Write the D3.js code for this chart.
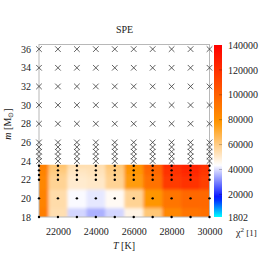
<!DOCTYPE html>
<html lang="en">
<head>
<meta charset="UTF-8">
<script src="https://d3js.org/d3.v7.min.js"></script>
<style>
  body { margin: 0; background: #fff; }
  text { font-family: "Liberation Serif", "Times New Roman", serif; font-size: 10px; fill: #222; }
</style>
</head>
<body>
<div id="app"></div>
<script>
    const svg_width = 262;
    const svg_height = 262;

    // grid of models
    var temps = [21000, 22000, 23000, 24000, 25000, 26000, 27000, 28000, 29000, 30000];
    var masses = [18, 20, 22, 22.5, 23, 23.5];
    // chi2 values, one row per mass
    var chi_18 = [88000, 54000, 39000, 35000, 39000, 47000, 62000, 84000, 92000, 94000];
    var chi_20 = [86000, 55000, 43000, 41000, 45000, 58000, 78000, 92000, 97000, 97000];
    var chi_22 = [84000, 58000, 50000, 51000, 58000, 76000, 93000, 116000, 120000, 114000];
    var chi_225 = [85000, 59000, 51000, 52000, 59000, 77000, 95000, 118000, 122000, 116000];
    var chi_23 = [86000, 61000, 52000, 53000, 60000, 78000, 97000, 120000, 124000, 118000];
    var chi_235 = [87000, 63000, 54000, 54000, 62000, 80000, 99000, 122000, 126000, 120000];
    var chi_rows = [chi_18, chi_20, chi_22, chi_225, chi_23, chi_235];
    // models without a fit (crosses)
    var cross_masses = [24, 24.5, 25, 25.5, 26, 28, 30, 32, 34, 36];

    var x_ticks = [22000, 24000, 26000, 28000, 30000];
    var y_ticks = [18, 20, 22, 24, 26, 28, 30, 32, 34, 36];
    var cb_ticks = [1802, 20000, 40000, 60000, 80000, 100000, 120000, 140000];
    var cb_range = [1802, 140000];

    var svg = d3.select('#app')
        .append('svg')
        .attr('width', svg_width)
        .attr('height', svg_height)

    var x_scale = d3.scaleLinear().domain([21000, 30000]).range([39, 209.5])
    var y_scale = d3.scaleLinear().domain([18, 36.55]).range([217, 44])
    var cb_scale = d3.scaleLinear().domain(cb_range).range([217, 45])

    var color = d3.scaleLinear()
        .domain([1802, 17500, 43500, 78000, 140000])
        .range(['#00ffff', '#0010ff', '#ffffff', '#ff9600', '#ff0000'])
        .clamp(true)

    var defs = svg.append('defs')
    defs.append('filter').attr('id', 'soft')
        .attr('x', '-10%').attr('y', '-10%').attr('width', '120%').attr('height', '120%')
        .append('feGaussianBlur').attr('stdDeviation', 1.6)
    defs.append('clipPath').attr('id', 'heatclip')
        .append('rect')
        .attr('x', x_scale(21000))
        .attr('y', y_scale(23.6))
        .attr('width', x_scale(30000) - x_scale(21000))
        .attr('height', y_scale(18) - y_scale(23.6))

    // cell edges halfway between grid values, outer ones pushed out
    function edges(arr, pad) {
        var e = [arr[0] - pad]
        for (let i = 1; i < arr.length; i++) e.push((arr[i - 1] + arr[i]) / 2)
        e.push(arr[arr.length - 1] + pad)
        return e
    }
    var tx = edges(temps, 1500)
    var my = edges(masses, 1.2)

    var cells = []
    masses.forEach(function (m, j) {
        temps.forEach(function (t, i) {
            cells.push({ i: i, j: j, v: chi_rows[j][i] })
        })
    })

    svg.append('g').attr('clip-path', 'url(#heatclip)')
        .append('g').attr('filter', 'url(#soft)')
        .selectAll('rect')
        .data(cells)
        .enter()
        .append('rect')
        .attr('x', function (d) { return x_scale(tx[d.i]) })
        .attr('width', function (d) { return x_scale(tx[d.i + 1]) - x_scale(tx[d.i]) + 0.5 })
        .attr('y', function (d) { return y_scale(my[d.j + 1]) })
        .attr('height', function (d) { return y_scale(my[d.j]) - y_scale(my[d.j + 1]) + 0.5 })
        .attr('fill', function (d) { return color(d.v) })

    // frame
    svg.append('rect')
        .attr('x', 39).attr('y', 44.5)
        .attr('width', x_scale(30000) - 39).attr('height', 217 - 44.5)
        .attr('fill', 'none').attr('stroke', '#b8b8b8').attr('stroke-width', 1)

    // crosses
    var cross_pts = []
    cross_masses.forEach(function (m) {
        temps.forEach(function (t) { cross_pts.push([t, m]) })
    })
    svg.append('g').selectAll('path')
        .data(cross_pts)
        .enter()
        .append('path')
        .attr('d', function (d) {
            var cx = x_scale(d[0]), cy = y_scale(d[1]), s = 2.8
            return 'M' + (cx - s) + ',' + (cy - s) + 'L' + (cx + s) + ',' + (cy + s) +
                'M' + (cx - s) + ',' + (cy + s) + 'L' + (cx + s) + ',' + (cy - s)
        })
        .attr('stroke', '#3a3a3a')
        .attr('stroke-width', 0.8)
        .attr('fill', 'none')

    // fitted models (dots)
    var dot_pts = []
    masses.forEach(function (m) {
        temps.forEach(function (t) { dot_pts.push([t, m]) })
    })
    svg.append('g').selectAll('circle')
        .data(dot_pts)
        .enter()
        .append('circle')
        .attr('cx', function (d) { return x_scale(d[0]) })
        .attr('cy', function (d) { return y_scale(d[1]) })
        .attr('r', 1.2)
        .attr('fill', '#000')

    // axes
    var x_axis = svg.append('g')
        .attr('transform', 'translate(0,217)')
        .call(d3.axisBottom(x_scale).tickValues(x_ticks).tickFormat(d3.format('d')).tickSize(0).tickPadding(11))
    var y_axis = svg.append('g')
        .attr('transform', 'translate(39,0)')
        .call(d3.axisLeft(y_scale).tickValues(y_ticks).tickSize(0).tickPadding(8))
    svg.selectAll('.domain').remove()
    svg.selectAll('.tick text').attr('fill', '#222').style('font-size', '10px')
        .style('font-family', '"Liberation Serif", serif')

    // colour bar
    var grad = defs.append('linearGradient').attr('id', 'cbgrad')
        .attr('x1', 0).attr('y1', 1).attr('x2', 0).attr('y2', 0)
    d3.range(0, 1.0001, 0.02).forEach(function (f) {
        var v = cb_range[0] + f * (cb_range[1] - cb_range[0])
        grad.append('stop').attr('offset', f).attr('stop-color', color(v))
    })
    svg.append('rect')
        .attr('x', 214).attr('y', 45)
        .attr('width', 8).attr('height', 172)
        .attr('fill', 'url(#cbgrad)')
    svg.append('g').selectAll('line')
        .data(cb_ticks.slice(1, -1))
        .enter()
        .append('line')
        .attr('x1', 219).attr('x2', 222)
        .attr('y1', function (d) { return cb_scale(d) })
        .attr('y2', function (d) { return cb_scale(d) })
        .attr('stroke', 'rgba(0,0,0,0.35)').attr('stroke-width', 0.7)
    svg.append('g')
        .attr('transform', 'translate(222,0)')
        .call(d3.axisRight(cb_scale).tickValues(cb_ticks).tickFormat(d3.format('d')).tickSize(0).tickPadding(6))
        .call(function (g) { g.select('.domain').remove() })
        .selectAll('text').attr('fill', '#222').style('font-size', '10px')
        .style('font-family', '"Liberation Serif", serif')

    // titles
    svg.append('text').attr('x', 124.5).attr('y', 33).attr('text-anchor', 'middle').text('SPE')

    var xl = svg.append('text').attr('x', 124).attr('y', 249).attr('text-anchor', 'middle')
    xl.append('tspan').attr('font-style', 'italic').text('T')
    xl.append('tspan').text(' [K]')

    var yl = svg.append('text').attr('transform', 'translate(11,124) rotate(-90)').attr('text-anchor', 'middle')
    yl.append('tspan').attr('font-style', 'italic').text('m')
    yl.append('tspan').text(' [M')
    yl.append('tspan').attr('dy', 2).style('font-size', '7px').text('⊙')
    yl.append('tspan').attr('dy', -2).text(']')

    var cl = svg.append('text').attr('x', 236).attr('y', 236)
    cl.append('tspan').text('χ')
    cl.append('tspan').attr('dy', -4).style('font-size', '7px').text('2')
    cl.append('tspan').attr('dy', 4).style('font-size', '9px').text(' [1]')
</script>
</body>
</html>
